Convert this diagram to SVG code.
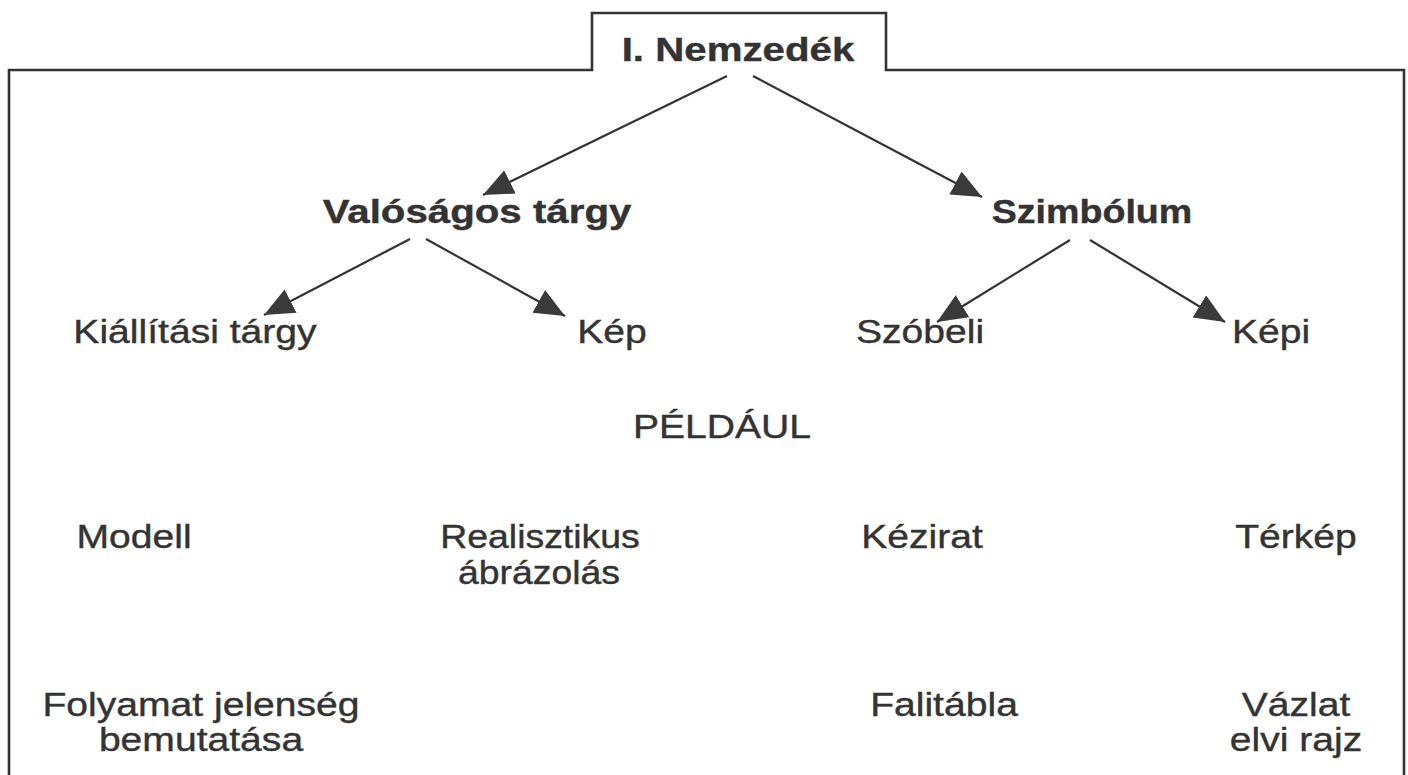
<svg xmlns="http://www.w3.org/2000/svg" width="1408" height="775" viewBox="0 0 1408 775">
<defs>
<marker id="ah" markerUnits="userSpaceOnUse" markerWidth="32" markerHeight="28" refX="30" refY="13" orient="auto">
<path d="M0,0 L30,13 L0,26 Z" fill="#3a3a3a"/>
</marker>
<style>
.t{font-family:"Liberation Sans",Arial,sans-serif;font-size:34px;fill:#333;stroke:#333;stroke-width:0.4;text-anchor:middle}
.b{font-family:"Liberation Sans",Arial,sans-serif;font-size:33px;font-weight:bold;fill:#333;stroke:#333;stroke-width:0.4;text-anchor:middle}
.c{stroke:#333;stroke-width:2.2;fill:none;marker-end:url(#ah)}
.f{stroke:#333;stroke-width:2.6;fill:none}
</style>
</defs>
<rect width="1408" height="775" fill="#fff"/>
<path class="f" d="M9,780 L9,70 L592,70 L592,13 L886,13 L886,70 L1404,70 L1404,780"/>
<g id="connectors">
<line class="c" x1="727" y1="76" x2="483" y2="195"/>
<line class="c" x1="753" y1="76" x2="982" y2="197"/>
<line class="c" x1="410" y1="239" x2="264" y2="315"/>
<line class="c" x1="426" y1="239" x2="565" y2="316"/>
<line class="c" x1="1070" y1="240" x2="937" y2="322"/>
<line class="c" x1="1090" y1="240" x2="1225" y2="322"/>
</g>
<g id="n-nemzedek"><text class="b" transform="translate(738,61) scale(1.22,1)">I. Nemzedék</text></g>
<g id="n-valosagos"><text class="b" transform="translate(477,223) scale(1.22,1)">Valóságos tárgy</text></g>
<g id="n-szimbolum"><text class="b" transform="translate(1092,223) scale(1.14,1)">Szimbólum</text></g>
<g id="n-kiallitasi"><text class="t" transform="translate(195,343) scale(1.15,1)">Kiállítási tárgy</text></g>
<g id="n-kep"><text class="t" transform="translate(612,343) scale(1.15,1)">Kép</text></g>
<g id="n-szobeli"><text class="t" transform="translate(920,343) scale(1.15,1)">Szóbeli</text></g>
<g id="n-kepi"><text class="t" transform="translate(1271,343) scale(1.15,1)">Képi</text></g>
<g id="n-peldaul"><text class="t" transform="translate(722,438) scale(1.15,1)">PÉLDÁUL</text></g>
<g id="n-modell"><text class="t" transform="translate(134,548) scale(1.15,1)">Modell</text></g>
<g id="n-realisztikus"><text class="t" transform="translate(540,548) scale(1.1,1)">Realisztikus</text><text class="t" transform="translate(539,584) scale(1.1,1)">ábrázolás</text></g>
<g id="n-kezirat"><text class="t" transform="translate(922,548) scale(1.15,1)">Kézirat</text></g>
<g id="n-terkep"><text class="t" transform="translate(1296,548) scale(1.15,1)">Térkép</text></g>
<g id="n-folyamat"><text class="t" transform="translate(201,716) scale(1.15,1)">Folyamat jelenség</text><text class="t" transform="translate(201,751) scale(1.15,1)">bemutatása</text></g>
<g id="n-falitabla"><text class="t" transform="translate(944,716) scale(1.15,1)">Falitábla</text></g>
<g id="n-vazlat"><text class="t" transform="translate(1296,716) scale(1.15,1)">Vázlat</text><text class="t" transform="translate(1296,751) scale(1.15,1)">elvi rajz</text></g>
</svg>
